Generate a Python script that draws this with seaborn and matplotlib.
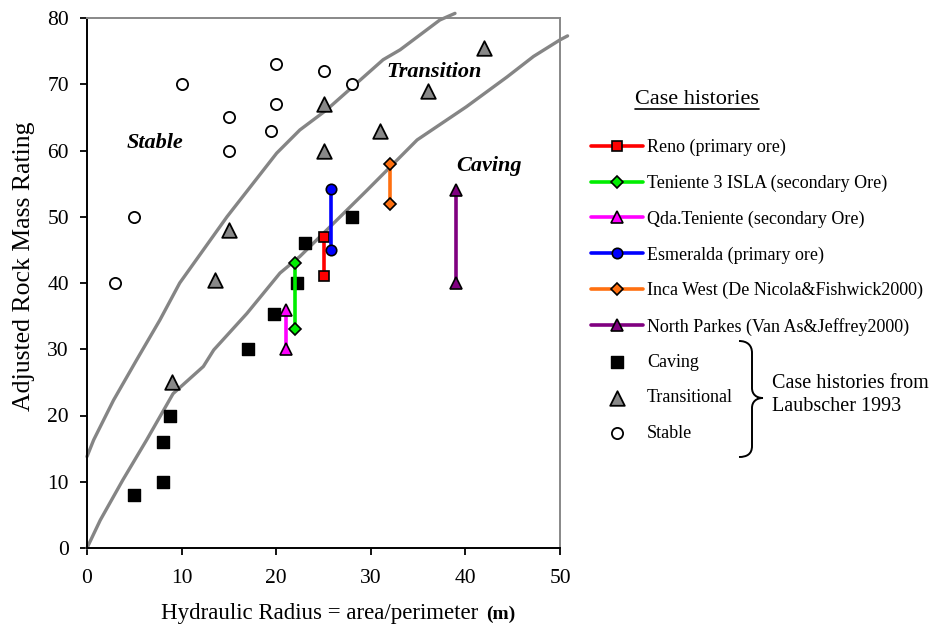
import numpy as np
import pandas as pd
import matplotlib
matplotlib.use("Agg")
import matplotlib.pyplot as plt
import seaborn as sns
from matplotlib.path import Path
from matplotlib.patches import PathPatch
from matplotlib.lines import Line2D

# ---------------- data ----------------
# Laubscher 1993 case histories
stable_x = [3, 5, 10, 15, 15, 20, 20, 19.5, 25, 28]
stable_y = [40, 50, 70, 65, 60, 73, 67, 63, 72, 70]
trans_x = [9, 13.5, 15, 25, 25, 31, 36, 42]
trans_y = [25, 40.5, 48, 67, 60, 63, 69, 75.5]
caving_x = [5, 8, 8, 8.8, 17, 19.8, 22.2, 23, 28]
caving_y = [8, 10, 16, 20, 30, 35.3, 40, 46, 50]

# case histories (pairs)
reno_x, reno_y = [25, 25], [47, 41]
ten3_x, ten3_y = [22, 22], [43, 33]
qda_x, qda_y = [21, 21], [36, 30]
esm_x, esm_y = [25.8, 25.8], [54.2, 45]
inca_x, inca_y = [32, 32], [58, 52]
npk_x, npk_y = [39, 39], [54, 40]

case_labels = ["Reno (primary ore)",
               "Teniente 3 ISLA (secondary Ore)",
               "Qda.Teniente (secondary Ore)",
               "Esmeralda (primary ore)",
               "Inca West (De Nicola&Fishwick2000)",
               "North Parkes (Van As&Jeffrey2000)"]
scatter_labels = ["Caving", "Transitional", "Stable"]

# boundary curves
upper_x = [0, 0.7, 2.8, 5.25, 7.7, 9.8, 14.8, 20.05, 22.5, 25.3, 31.3, 33.1, 37.3, 38.9]
upper_y = [13.8, 16.3, 22.3, 28.4, 34.4, 40, 50, 59.6, 63.1, 66.1, 73.7, 75.2, 79.7, 80.7]
lower_x = [0, 1.4, 3.8, 6.3, 9.1, 12.3, 13.4, 16.9, 20.4, 22.5, 25.7, 29.6, 34.9, 40.1, 44.4, 47.2, 50, 50.8]
lower_y = [0, 4.2, 10.3, 16.3, 23.3, 27.4, 29.9, 35.4, 41.5, 44, 48.5, 54, 61.6, 66.6, 71.1, 74.2, 76.7, 77.3]

region_labels = ["Stable", "Transition", "Caving"]
region_x = [7.15, 36.7, 42.5]
region_y = [61.2, 71.9, 57.7]

x_ticks = [0, 10, 20, 30, 40, 50]
y_ticks = [0, 10, 20, 30, 40, 50, 60, 70, 80]

# ---------------- style ----------------
sns.set_theme(style="ticks")
plt.rcParams['font.family'] = ['Liberation Serif', 'DejaVu Serif']
plt.rcParams['text.color'] = 'black'
plt.rcParams['axes.labelcolor'] = 'black'

W, H = 946, 632
fig = plt.figure(figsize=(W / 100, H / 100), dpi=100)
ax = fig.add_axes([87 / W, 84 / H, 473 / W, 530 / H])

curve_color = '#858585'
sns.lineplot(x=upper_x, y=upper_y, sort=False, estimator=None, color=curve_color,
             linewidth=2.4, ax=ax, clip_on=False, legend=False, zorder=2)
sns.lineplot(x=lower_x, y=lower_y, sort=False, estimator=None, color=curve_color,
             linewidth=2.4, ax=ax, clip_on=False, legend=False, zorder=2)

case_specs = [
    (reno_x, reno_y, '#FF0000', 's'),
    (ten3_x, ten3_y, '#00EE00', 'D'),
    (qda_x, qda_y, '#FF00FF', '^'),
    (esm_x, esm_y, '#0000FF', 'o'),
    (inca_x, inca_y, '#FF7010', 'D'),
    (npk_x, npk_y, '#800080', '^'),
]
msizes = {'s': 7.5, 'D': 6.5, '^': 8.5, 'o': 7.5}
for (xs, ys, c, m), lab in zip(case_specs, case_labels):
    sns.lineplot(x=xs, y=ys, sort=False, estimator=None, color=c, linewidth=2.6,
                 marker=m, markersize=msizes[m], markerfacecolor=c,
                 markeredgecolor='black', markeredgewidth=1.2, label=lab, ax=ax, zorder=4)

sns.scatterplot(x=caving_x, y=caving_y, marker='s', color='black', edgecolor='black',
                s=80, linewidth=1, label=scatter_labels[0], ax=ax, zorder=3)
sns.scatterplot(x=trans_x, y=trans_y, marker='^', color='#888888', edgecolor='black',
                s=110, linewidth=1.3, label=scatter_labels[1], ax=ax, zorder=3)
sns.scatterplot(x=stable_x, y=stable_y, marker='o', color='white', edgecolor='black',
                s=65, linewidth=1.3, label=scatter_labels[2], ax=ax, zorder=3)

for t, x, y in zip(region_labels, region_x, region_y):
    ax.text(x, y, t, fontsize=16, style='italic', weight='bold', ha='center', va='center')

ax.set_xlim(0, 50)
ax.set_ylim(0, 80)
ax.set_xticks(x_ticks)
ax.set_yticks(y_ticks)
ax.tick_params(axis='both', direction='out', length=5, width=1.3, colors='black',
               labelsize=15.5)
ax.tick_params(axis='x', pad=10)
ax.tick_params(axis='y', pad=8)
for s in ['left', 'bottom']:
    ax.spines[s].set_color('black')
    ax.spines[s].set_linewidth(1.4)
for s in ['right', 'top']:
    ax.spines[s].set_visible(True)
    ax.spines[s].set_color('#888888')
    ax.spines[s].set_linewidth(1.4)

ax.set_ylabel("")
ax.set_xlabel("")
fig.text(24 / W, 1 - 266 / H, "Adjusted Rock Mass Rating", fontsize=18.5,
         rotation=90, ha='center', va='center')

handles, labels = ax.get_legend_handles_labels()
leg = ax.legend(handles, labels, loc='upper left', bbox_to_anchor=(591 / W, 1 - 139 / H),
                bbox_transform=fig.transFigure, frameon=False, fontsize=13,
                handlelength=2.9, handletextpad=0.2, labelspacing=1.02,
                borderaxespad=0, borderpad=0)

# x label with bold (m)
fig.canvas.draw()
r = fig.canvas.get_renderer()
xl = fig.text(161 / W, 1 - 619 / H, "Hydraulic Radius = area/perimeter", fontsize=16.5,
              ha='left', va='baseline')
w1 = xl.get_window_extent(r).width
fig.text((161 + w1 + 8) / W, 1 - 619 / H, "(m)", fontsize=14, weight='bold',
         ha='left', va='baseline')

# legend title underlined
title = fig.text(697 / W, 1 - 100 / H, "Case histories", fontsize=16, ha='center', va='center')
tb = title.get_window_extent(r)
fig.add_artist(Line2D([tb.x0 / W, tb.x1 / W], [(tb.y0 + 1) / H] * 2,
                      transform=fig.transFigure, color='black', lw=1.2))

# brace
def P(px, py):
    return (px / W, 1 - py / H)
verts = [P(739, 341), P(747, 341), P(752, 345), P(752, 353),
         P(752, 388),
         P(752, 394), P(756, 398), P(763, 398),
         P(756, 398), P(752, 402), P(752, 408),
         P(752, 446),
         P(752, 454), P(747, 457), P(739, 457)]
codes = [Path.MOVETO, Path.CURVE4, Path.CURVE4, Path.CURVE4,
         Path.LINETO,
         Path.CURVE4, Path.CURVE4, Path.CURVE4,
         Path.CURVE4, Path.CURVE4, Path.CURVE4,
         Path.LINETO,
         Path.CURVE4, Path.CURVE4, Path.CURVE4]
fig.add_artist(PathPatch(Path(verts, codes), transform=fig.transFigure,
                         facecolor='none', edgecolor='black', lw=1.4))
fig.text(772 / W, 1 - 395 / H, "Case histories from\nLaubscher 1993", fontsize=14.5,
         ha='left', va='center', linespacing=1.3)

fig.savefig("out.png", dpi=100)
